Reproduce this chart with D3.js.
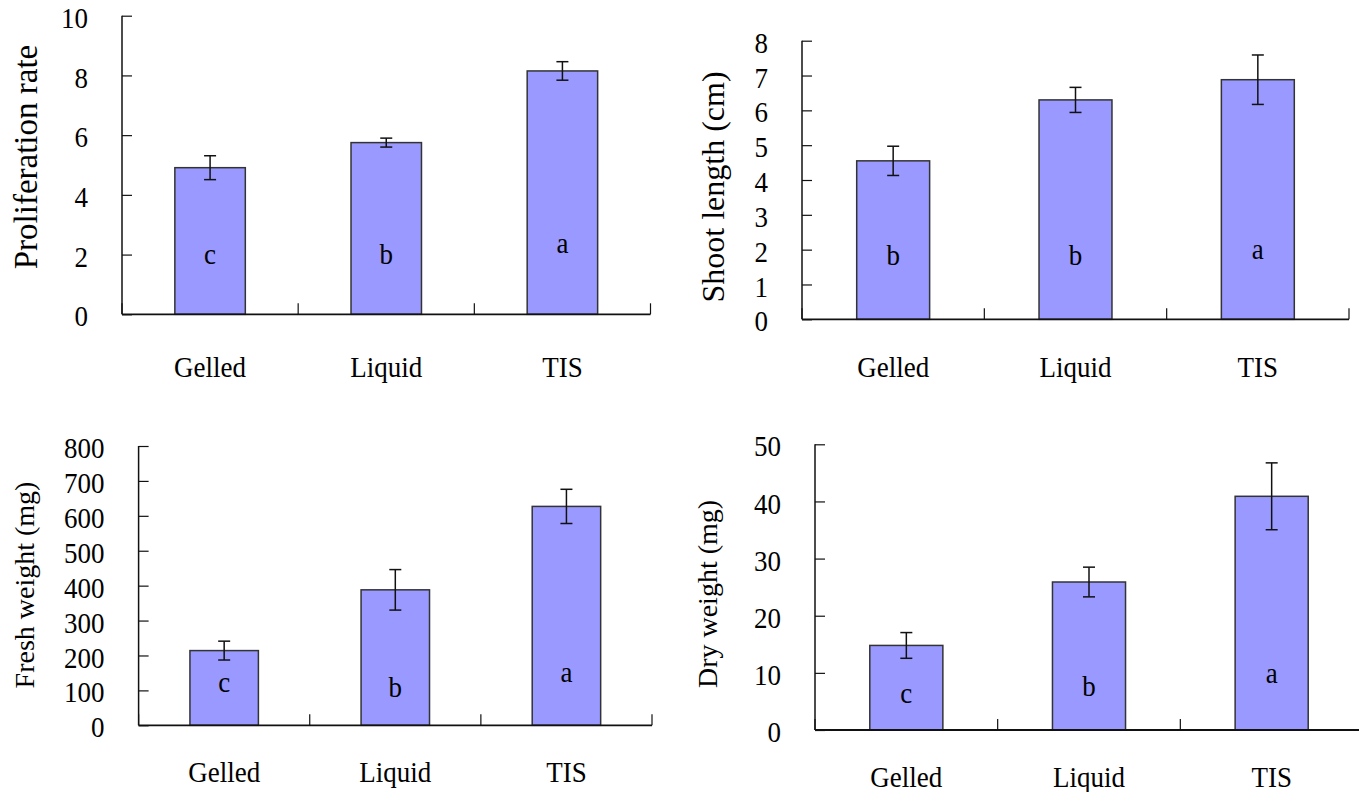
<!DOCTYPE html>
<html>
<head>
<meta charset="utf-8">
<script src="https://cdn.jsdelivr.net/npm/d3@7"></script>
<style>
  body { margin: 0; background: #fff; }
</style>
</head>
<body>
<svg id="chart" width="1359" height="792"></svg>
<script>
// data
const categories = ["Gelled", "Liquid", "TIS"];

const proliferation = [4.91, 5.75, 8.15];
const proliferationErr = [0.40, 0.15, 0.31];
const proliferationLetters = ["c", "b", "a"];
const proliferationTicks = [0, 2, 4, 6, 8, 10];

const shootLength = [4.55, 6.30, 6.88];
const shootLengthErr = [0.42, 0.36, 0.71];
const shootLengthLetters = ["b", "b", "a"];
const shootLengthTicks = [0, 1, 2, 3, 4, 5, 6, 7, 8];

const freshWeight = [214, 388, 627];
const freshWeightErr = [27, 58, 49];
const freshWeightLetters = ["c", "b", "a"];
const freshWeightTicks = [0, 100, 200, 300, 400, 500, 600, 700, 800];

const dryWeight = [14.8, 25.9, 40.9];
const dryWeightErr = [2.25, 2.6, 5.85];
const dryWeightLetters = ["c", "b", "a"];
const dryWeightTicks = [0, 10, 20, 30, 40, 50];

const FONT = '"Liberation Serif", "Times New Roman", serif';
const STRETCH = 1.12;   // the original lettering is a little taller than wide
const svg = d3.select("#chart");

function hText(sel, fx, fy) {
    return sel.attr("transform", (d, i) => `translate(${fx(d, i)},${fy(d, i)}) scale(1,${STRETCH})`)
        .style("font-family", FONT)
        .style("font-size", "27px");
}

function drawPanel(cfg) {
    let g = svg.append("g");

    let x = d3.scaleBand()
        .domain(categories)
        .range([cfg.left, cfg.right])
        .paddingInner(0.6)
        .paddingOuter(0.3);

    let y = d3.scaleLinear()
        .domain([0, d3.max(cfg.ticks)])
        .range([cfg.base, cfg.top]);

    let step = (cfg.right - cfg.left) / categories.length;
    let mid = i => x(categories[i]) + x.bandwidth() / 2;

    // bars
    g.selectAll("rect")
        .data(cfg.values)
        .enter()
        .append("rect")
        .attr("x", (d, i) => x(categories[i]))
        .attr("y", d => y(d))
        .attr("width", x.bandwidth())
        .attr("height", d => y(0) - y(d))
        .attr("fill", "#9999FF")
        .attr("stroke", "#333")
        .attr("stroke-width", 1.5);

    // error bars
    let eb = g.selectAll(".err")
        .data(cfg.values)
        .enter()
        .append("g")
        .attr("class", "err")
        .attr("stroke", "#111")
        .attr("stroke-width", 1.5);
    eb.append("line")
        .attr("x1", (d, i) => mid(i))
        .attr("x2", (d, i) => mid(i))
        .attr("y1", (d, i) => y(d + cfg.err[i]))
        .attr("y2", (d, i) => y(d - cfg.err[i]));
    [1, -1].forEach(s => {
        eb.append("line")
            .attr("x1", (d, i) => mid(i) - 6)
            .attr("x2", (d, i) => mid(i) + 6)
            .attr("y1", (d, i) => y(d + s * cfg.err[i]))
            .attr("y2", (d, i) => y(d + s * cfg.err[i]));
    });

    // letters inside bars
    hText(g.selectAll(".letter")
        .data(cfg.letters)
        .enter()
        .append("text")
        .attr("class", "letter")
        .attr("text-anchor", "middle"),
        (d, i) => mid(i), (d, i) => cfg.base - cfg.letterUp[i])
        .text(d => d);

    // y axis, ticks pointing inwards
    let yAxis = d3.axisRight(y).tickValues(cfg.ticks).tickSize(10).tickFormat("");
    let ya = g.append("g").attr("transform", `translate(${cfg.left},0)`).call(yAxis);
    ya.select(".domain").attr("d", `M0,${cfg.top}V${cfg.base}`).attr("stroke", "#111").attr("stroke-width", 1.5);
    ya.selectAll(".tick line").attr("stroke", "#111").attr("stroke-width", 1.2);

    hText(g.selectAll(".ylab")
        .data(cfg.ticks)
        .enter()
        .append("text")
        .attr("class", "ylab")
        .attr("dy", "0.4em")
        .attr("text-anchor", "end"),
        () => cfg.left - 34, d => y(d))
        .text(d => d);

    // x axis with category boundary ticks
    g.append("line")
        .attr("x1", cfg.left).attr("x2", cfg.right)
        .attr("y1", cfg.base).attr("y2", cfg.base)
        .attr("stroke", "#111").attr("stroke-width", 1.8);
    g.selectAll(".xtick")
        .data(d3.range(categories.length + 1))
        .enter()
        .append("line")
        .attr("x1", d => cfg.left + d * step)
        .attr("x2", d => cfg.left + d * step)
        .attr("y1", cfg.base)
        .attr("y2", cfg.base - 11)
        .attr("stroke", "#111")
        .attr("stroke-width", 1.2);

    hText(g.selectAll(".xlab")
        .data(categories)
        .enter()
        .append("text")
        .attr("class", "xlab")
        .attr("text-anchor", "middle"),
        d => x(d) + x.bandwidth() / 2, () => cfg.base + cfg.labelDown)
        .text(d => d);

    g.append("text")
        .attr("transform", `translate(${cfg.titleX},${cfg.titleY}) rotate(-90)`)
        .attr("text-anchor", "middle")
        .style("font-family", FONT)
        .style("font-size", cfg.titleSize + "px")
        .text(cfg.title);
}

drawPanel({
    values: proliferation, err: proliferationErr, letters: proliferationLetters, ticks: proliferationTicks,
    left: 122, right: 650.5, top: 15.7, base: 314.3,
    letterUp: [50, 50, 61], labelDown: 63,
    title: "Proliferation rate", titleX: 37, titleY: 157, titleSize: 33
});

drawPanel({
    values: shootLength, err: shootLengthErr, letters: shootLengthLetters, ticks: shootLengthTicks,
    left: 802, right: 1349, top: 40.7, base: 319.3,
    letterUp: [54, 54, 60], labelDown: 58,
    title: "Shoot length (cm)", titleX: 724, titleY: 187, titleSize: 32
});

drawPanel({
    values: freshWeight, err: freshWeightErr, letters: freshWeightLetters, ticks: freshWeightTicks,
    left: 138.6, right: 652, top: 446, base: 725.3,
    letterUp: [33, 28, 43], labelDown: 57,
    title: "Fresh weight (mg)", titleX: 34, titleY: 585, titleSize: 28
});

drawPanel({
    values: dryWeight, err: dryWeightErr, letters: dryWeightLetters, ticks: dryWeightTicks,
    left: 815, right: 1363, top: 444.3, base: 730,
    letterUp: [27, 34, 47], labelDown: 57,
    title: "Dry weight (mg)", titleX: 717, titleY: 594, titleSize: 28
});
</script>
</body>
</html>
